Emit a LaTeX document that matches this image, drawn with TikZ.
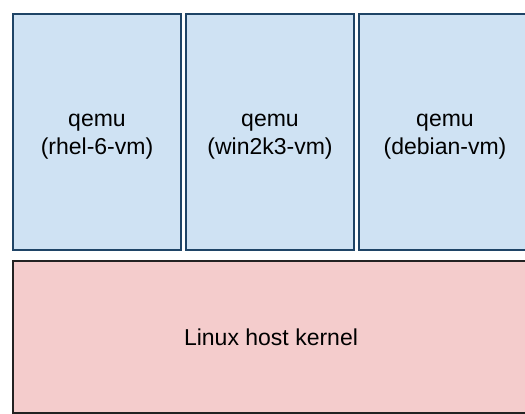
\documentclass[tikz,border=0pt]{standalone}
\usepackage{fontspec}
\setmainfont{Liberation Sans}
\begin{document}
\begin{tikzpicture}[x=1pt,y=-1pt,
  vm/.style={draw=vmborder,fill=vmfill,line width=2pt},
  kern/.style={draw=kernborder,fill=kernfill,line width=2pt},
  lbl/.style={anchor=base,inner sep=0pt,font=\fontsize{23}{28}\selectfont,text=black}]
\definecolor{vmfill}{HTML}{CFE2F3}
\definecolor{vmborder}{HTML}{1F4466}
\definecolor{kernfill}{HTML}{F4CCCC}
\definecolor{kernborder}{HTML}{222222}
\useasboundingbox (0,0) rectangle (525,414);
\fill[white] (0,0) rectangle (525,414);
\begin{scope}
\clip (0,0) rectangle (525,414);
\draw[vm] (13,14) rectangle (181,250);
\draw[vm] (186,14) rectangle (354,250);
\draw[vm] (359,14) rectangle (540,250);
\draw[kern] (13,261) rectangle (540,413);
\end{scope}
\node[lbl] (t1a) at (97,127) {qemu};
\node[lbl] (t1b) at (97,155) {(rhel-6-vm)};
\node[lbl] (t2a) at (270,127) {qemu};
\node[lbl] (t2b) at (270,155) {(win2k3-vm)};
\node[lbl] (t3a) at (445,127) {qemu};
\node[lbl] (t3b) at (445,155) {(debian-vm)};
\node[lbl] (k) at (271,345) {Linux host kernel};
\end{tikzpicture}
\end{document}
